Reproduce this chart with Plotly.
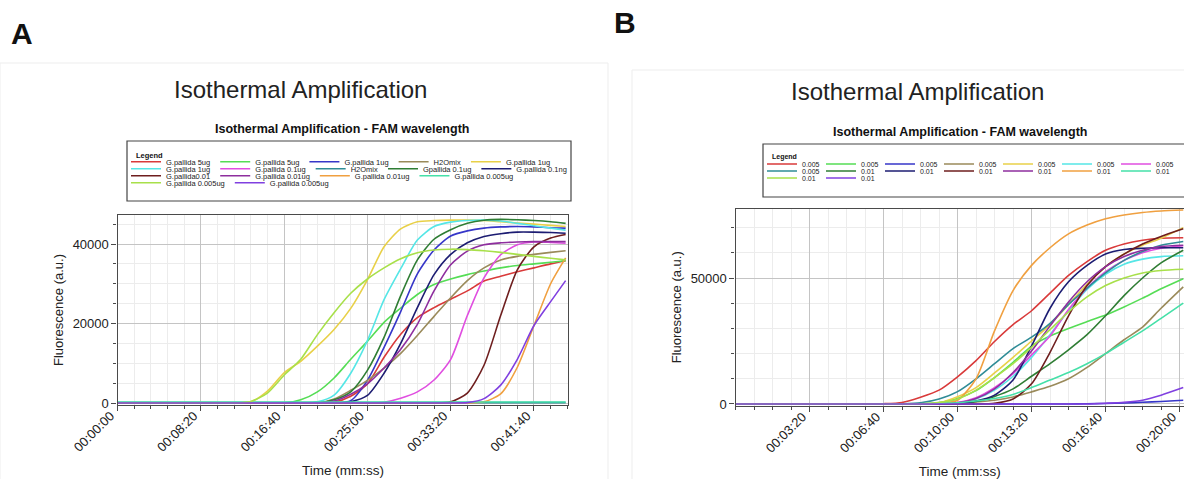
import plotly.graph_objects as go

W, H = 1184, 479

# ---------------- Panel A data (time in seconds) ----------------
time_a = [0, 600, 700, 800, 900, 1000, 1100, 1200, 1300, 1400, 1500, 1600, 1700,
          1800, 1900, 2000, 2100, 2200, 2300, 2400, 2500, 2600, 2690]

names_a = ["G.pallida 5ug", "G.pallida 5ug", "G.pallida 1ug", "H2Omix", "G.pallida 1ug",
           "G.pallida 1ug", "G.pallida 0.1ug", "H2Omix", "Gpallida 0.1ug", "G.pallida 0.1ng",
           "G.pallida0.01", "G.pallida 0.01ug", "G.pallida 0.01ug", "G.pallida 0.005ug",
           "G.pallida 0.005ug", "G.pallida 0.005ug"]

a_red = [0, 0, 0, 0, 0, 0, 0, 0, 200, 1700, 4800, 11500, 17300, 21500, 24000, 26100, 28200, 30700, 31900, 33000, 34000, 35000, 35800]
a_green = [0, 0, 0, 0, 0, 0, 800, 2800, 6300, 11000, 15500, 20300, 23900, 27300, 29800, 31200, 32300, 33200, 34000, 34600, 35000, 35400, 35800]
a_blue = [0, 0, 0, 0, 0, 0, 0, 0, 0, 600, 5700, 14000, 23000, 32500, 38500, 42000, 43300, 44000, 44300, 44400, 44300, 44100, 44000]
a_olive = [0, 0, 0, 0, 0, 0, 0, 0, 1000, 3200, 5700, 8800, 12500, 17000, 21800, 26500, 30800, 34000, 36000, 36900, 37400, 37900, 38300]
a_yellow = [0, 0, 0, 300, 3000, 7600, 10500, 14300, 18500, 23800, 31000, 39300, 43800, 45600, 45900, 46000, 46000, 45900, 45600, 45300, 45000, 44700, 44400]
a_cyan = [0, 0, 0, 0, 0, 0, 0, 300, 2000, 7500, 15700, 26000, 33800, 41000, 44400, 45500, 45900, 46000, 45800, 45200, 44600, 44000, 43500]
a_magenta = [0, 0, 0, 0, 0, 0, 0, 0, 0, 0, 0, 200, 1200, 2800, 5800, 11000, 22000, 31500, 37300, 39800, 40500, 40400, 40200]
a_teal = [100, 100, 100, 100, 100, 100, 100, 100, 100, 100, 100, 100, 100, 100, 100, 100, 100, 100, 100, 100, 100, 100, 100]
a_dkgreen = [0, 0, 0, 0, 0, 0, 0, 0, 800, 2800, 8200, 16500, 27000, 36000, 41200, 43600, 45200, 46000, 46200, 46100, 45900, 45600, 45200]
a_navy = [0, 0, 0, 0, 0, 0, 0, 0, 0, 300, 1900, 7500, 15000, 24000, 32300, 37400, 40300, 41900, 42600, 43000, 43000, 42900, 42700]
a_brown = [0, 0, 0, 0, 0, 0, 0, 0, 0, 0, 0, 0, 0, 0, 0, 300, 2500, 9500, 22000, 33500, 39300, 41500, 42400]
a_purple = [0, 0, 0, 0, 0, 0, 0, 0, 500, 2200, 4800, 8800, 13500, 19800, 28200, 34800, 38200, 39800, 40300, 40500, 40600, 40600, 40600]
a_orange = [0, 0, 0, 0, 0, 0, 0, 0, 0, 0, 0, 0, 0, 0, 0, 0, 0, 300, 2300, 9000, 19500, 30000, 36500]
a_aqua = [250, 250, 250, 250, 250, 250, 250, 250, 250, 250, 250, 250, 250, 250, 250, 250, 250, 250, 250, 250, 250, 250, 250]
a_lime = [0, 0, 0, 400, 2500, 7000, 11000, 17200, 22700, 27600, 31200, 34000, 36300, 37800, 38500, 38700, 38600, 38300, 37900, 37400, 36900, 36400, 36000]
a_violet = [0, 0, 0, 0, 0, 0, 0, 0, 0, 0, 0, 0, 0, 0, 0, 0, 100, 1100, 4500, 11000, 19500, 25500, 30800]

series_a = [a_red, a_green, a_blue, a_olive, a_yellow, a_cyan, a_magenta, a_teal,
            a_dkgreen, a_navy, a_brown, a_purple, a_orange, a_aqua, a_lime, a_violet]

xtick_vals_a = [0, 500, 1000, 1500, 2000, 2500]
xtick_text_a = ["00:00:00", "00:08:20", "00:16:40", "00:25:00", "00:33:20", "00:41:40"]
ytick_vals_a = [0, 20000, 40000]
ytick_text_a = ["0", "20000", "40000"]

# ---------------- Panel B data (time in seconds) ----------------
time_b = [0, 350, 400, 450, 500, 550, 600, 650, 700, 750, 800, 850, 900, 950, 1000,
          1050, 1100, 1150, 1210]

names_b = ["0.005", "0.005", "0.005", "0.005", "0.005", "0.005", "0.005",
           "0.005", "0.01", "0.01", "0.01", "0.01", "0.01", "0.01",
           "0.01", "0.01"]

b_red = [0, 0, 100, 600, 2700, 5500, 10800, 17200, 24800, 31500, 37000, 44000, 51000, 56500, 61000, 63500, 65000, 65800, 66000]
b_green = [0, 0, 0, 0, 0, 600, 2200, 5300, 10500, 16500, 23000, 27000, 30000, 32700, 35300, 38500, 42000, 45700, 49700]
b_blue = [0, 0, 0, 0, 0, 0, 0, 0, 0, 0, 0, 0, 0, 100, 200, 400, 700, 1000, 1500]
b_tan = [0, 0, 0, 0, 0, 100, 300, 800, 1500, 2800, 4800, 7000, 10000, 14500, 20000, 25500, 30500, 38000, 46500]
b_yellow = [0, 0, 0, 0, 100, 500, 2900, 6500, 12300, 18500, 25000, 31500, 39500, 47500, 54500, 59500, 63000, 65800, 70000]
b_cyan = [0, 0, 0, 0, 0, 100, 500, 2000, 5500, 11000, 18500, 27500, 37000, 45500, 51500, 55500, 57500, 58500, 58800]
b_magenta = [0, 0, 0, 0, 0, 200, 600, 2500, 6500, 12000, 19500, 27000, 37500, 46000, 52500, 57000, 60000, 61800, 62800]
b_teal = [0, 0, 0, 100, 500, 2000, 4900, 10000, 16000, 22000, 26500, 32000, 39500, 46000, 52000, 57000, 60500, 63000, 64500]
b_dkgreen = [0, 0, 0, 0, 0, 0, 300, 1000, 3000, 6000, 11000, 16000, 21500, 27500, 35000, 43000, 50000, 56000, 61000]
b_navy = [0, 0, 0, 0, 0, 0, 300, 1200, 3500, 9500, 23000, 38000, 48500, 55000, 59500, 61300, 61800, 62000, 62000]
b_brown = [0, 0, 0, 0, 0, 0, 0, 0, 300, 2000, 8000, 20500, 35000, 47000, 54500, 59500, 63500, 66500, 69500]
b_purple = [0, 0, 0, 0, 0, 100, 500, 2200, 6000, 12500, 21000, 31000, 40500, 48500, 54500, 58500, 61000, 62500, 63000]
b_orange = [0, 0, 0, 0, 0, 300, 1500, 10000, 29000, 45000, 55000, 62000, 67500, 71000, 73500, 75000, 76000, 76600, 77000]
b_aqua = [0, 0, 0, 0, 100, 300, 500, 1200, 2200, 3800, 6500, 9500, 12500, 16000, 20000, 24500, 29000, 34000, 40000]
b_lime = [0, 0, 0, 0, 100, 600, 2000, 5500, 10500, 16000, 22500, 29500, 36500, 42500, 47000, 50000, 52000, 53000, 53500]
b_violet = [0, 0, 0, 0, 0, 0, 0, 0, 0, 0, 0, 0, 0, 0, 300, 700, 1500, 3500, 6500]

series_b = [b_red, b_green, b_blue, b_tan, b_yellow, b_cyan, b_magenta, b_teal,
            b_dkgreen, b_navy, b_brown, b_purple, b_orange, b_aqua, b_lime, b_violet]

xtick_vals_b = [200, 400, 600, 800, 1000, 1200]
xtick_text_b = ["00:03:20", "00:06:40", "00:10:00", "00:13:20", "00:16:40", "00:20:00"]
ytick_vals_b = [0, 50000]
ytick_text_b = ["0", "50000"]

# ---------------- styles ----------------
palette = ["#d93a3a", "#55dd55", "#3636c8", "#9a8a5a", "#e8d048", "#55e6e6", "#e04ee0", "#2f8c96",
           "#2f7d34", "#1c1c72", "#6e1e1e", "#8e2e9e", "#f0a040", "#45e0a8", "#a8e04a", "#8040e0"]
rows_a = [5, 5, 4, 2]
rows_b = [7, 7, 2]
FONT = "Liberation Sans"

def px_x(p):
    return p / W

def px_y(p):
    return 1 - p / H

fig = go.Figure()

def legend_ids(rows, start):
    ids = []
    for r, n in enumerate(rows):
        name = "legend" if start + r == 1 else "legend%d" % (start + r)
        ids += [name] * n
    return ids

leg_a = legend_ids(rows_a, 1)
leg_b = legend_ids(rows_b, 1 + len(rows_a))

for i, (nm, ys) in enumerate(zip(names_a, series_a)):
    fig.add_trace(go.Scatter(x=time_a, y=ys, name=nm, mode="lines",
                             line=dict(color=palette[i], width=1.6, shape="spline", smoothing=0.7),
                             xaxis="x", yaxis="y", legend=leg_a[i]))
for i, (nm, ys) in enumerate(zip(names_b, series_b)):
    fig.add_trace(go.Scatter(x=time_b, y=ys, name=nm, mode="lines",
                             line=dict(color=palette[i], width=1.6, shape="spline", smoothing=0.7),
                             xaxis="x2", yaxis="y2", legend=leg_b[i]))

grid_major = "#c4c4c4"
grid_minor = "#ececec"
axis_col = "#4a4a4a"

def xaxis_style(domain, rng, vals, text, minor_dtick, anchor):
    return dict(domain=domain, range=rng, anchor=anchor, tickmode="array", tickvals=vals,
                ticktext=text, tickangle=-45, ticks="outside", ticklen=5, tickcolor=axis_col,
                ticklabelshift=-7, ticklabelstandoff=-8,
                showline=True, linecolor=axis_col, linewidth=1.2, mirror=True,
                showgrid=True, gridcolor=grid_major, gridwidth=1, zeroline=False,
                automargin=False,
                tickfont=dict(family=FONT, size=13, color="#222"),
                title=dict(text="Time (mm:ss)", font=dict(family=FONT, size=13.5, color="#222"), standoff=11),
                minor=dict(dtick=minor_dtick, tick0=0, ticks="outside", ticklen=3, tickcolor=axis_col,
                           showgrid=True, gridcolor=grid_minor, gridwidth=1))

def yaxis_style(domain, rng, vals, text, minor_dtick, anchor):
    return dict(domain=domain, range=rng, anchor=anchor, tickmode="array", tickvals=vals,
                ticktext=text, ticks="outside", ticklen=5, tickcolor=axis_col,
                showline=True, linecolor=axis_col, linewidth=1.2, mirror=True,
                showgrid=True, gridcolor=grid_major, gridwidth=1, zeroline=False,
                automargin=False,
                tickfont=dict(family=FONT, size=13, color="#222"),
                title=dict(text="Fluorescence (a.u.)", font=dict(family=FONT, size=13, color="#222"), standoff=6),
                minor=dict(dtick=minor_dtick, tick0=0, ticks="outside", ticklen=3, tickcolor=axis_col,
                           showgrid=True, gridcolor=grid_minor, gridwidth=1))

layout = dict(
    width=W, height=H, margin=dict(l=0, r=0, t=0, b=0, autoexpand=False),
    paper_bgcolor="white", plot_bgcolor="white", hovermode=False,
    xaxis=xaxis_style([px_x(117.5), px_x(568.3)], [0, 2706], xtick_vals_a, xtick_text_a, 100, "y"),
    yaxis=yaxis_style([px_y(405), px_y(215)], [-500, 47300], ytick_vals_a, ytick_text_a, 5000, "x"),
    xaxis2=xaxis_style([px_x(735.5), 1.0], [0, 1212], xtick_vals_b, xtick_text_b, 50, "y2"),
    yaxis2=yaxis_style([px_y(406), px_y(208.5)], [-800, 77580], ytick_vals_b, ytick_text_b, 10000, "x2"),
)

# legends: one legend per row so that entries flow like the original
# (left px, row centre px, font size, fixed entry width or None)
legend_rows = [(131, 161.8, 7.5, None), (131, 168.8, 7.5, None), (131, 175.8, 7.5, None),
               (131, 182.8, 7.5, None),
               (767, 164.0, 7, 14), (767, 171.0, 7, 14), (767, 178.0, 7, 14)]
for k, (lx, ly, fs, ew) in enumerate(legend_rows):
    key = "legend" if k == 0 else "legend%d" % (k + 1)
    spec = dict(orientation="h", x=px_x(lx - 5), xanchor="left",
                y=px_y(ly - 14.5), yanchor="top",
                bgcolor="rgba(0,0,0,0)", borderwidth=0,
                font=dict(family=FONT, size=fs, color="#222"),
                itemwidth=30, tracegroupgap=0)
    if ew:
        spec["entrywidth"] = ew
        spec["entrywidthmode"] = "pixels"
    layout[key] = spec

shapes = [
    dict(type="rect", xref="paper", yref="paper", x0=0, x1=px_x(608), y0=px_y(482), y1=px_y(63),
         line=dict(color="#ededed", width=1)),
    dict(type="rect", xref="paper", yref="paper", x0=px_x(632), x1=px_x(1190), y0=px_y(482), y1=px_y(70),
         line=dict(color="#ededed", width=1)),
    dict(type="rect", xref="paper", yref="paper", x0=px_x(127), x1=px_x(571), y0=px_y(201), y1=px_y(141),
         line=dict(color="#444", width=1.2)),
    dict(type="rect", xref="paper", yref="paper", x0=px_x(763), x1=px_x(1192), y0=px_y(197), y1=px_y(144),
         line=dict(color="#444", width=1.2)),
]

def ann(text, x, y, size, bold=False, xanchor="center"):
    return dict(text=("<b>%s</b>" % text) if bold else text, x=px_x(x), y=px_y(y),
                xref="paper", yref="paper", showarrow=False, xanchor=xanchor, yanchor="middle",
                font=dict(family=FONT, size=size, color="#111" if bold else "#222"))

annotations = [
    ann("A", 22, 34, 30, bold=True),
    ann("B", 625, 23, 30, bold=True),
    ann("Isothermal Amplification", 300, 89, 24),
    ann("Isothermal Amplification", 917, 91, 24),
    ann("Isothermal Amplification - FAM wavelength", 342, 129, 12.5, bold=True),
    ann("Isothermal Amplification - FAM wavelength", 960, 132, 12.5, bold=True),
    ann("Legend", 134, 155, 7.5, bold=True, xanchor="left"),
    ann("Legend", 770, 157, 7, bold=True, xanchor="left"),
]

layout["shapes"] = shapes
layout["annotations"] = annotations
fig.update_layout(**layout)

fig.write_html("out.html", config={"displayModeBar": False},
               post_script="document.body.style.margin='0';document.body.style.overflow='hidden';")
